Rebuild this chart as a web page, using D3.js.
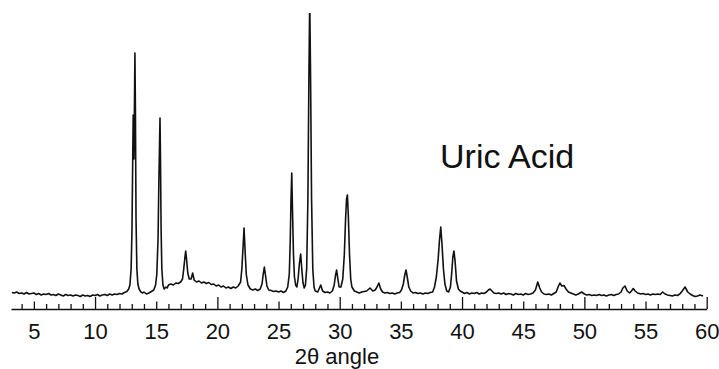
<!DOCTYPE html>
<html>
<head>
<meta charset="UTF-8">
<script src="https://d3js.org/d3.v7.min.js"></script>
<style>
    body { margin: 0; background: #fff; }
    svg { display: block; font-family: "Liberation Sans", Arial, sans-serif; }
</style>
</head>
<body>
<svg id="chart" width="719" height="369"></svg>
<script>
// XRD scan, [2theta, intensity] (intensity in arbitrary counts)
var scan = [
    [3.2,16.5],[3.4,16],[3.6,17],[3.8,15.5],[4.0,16],[4.2,15],[4.4,16.5],[4.6,15],[4.8,15.5],[5.0,16],
    [5.2,14.5],[5.4,15.5],[5.6,14],[5.8,15],[6.0,14.5],[6.2,15.5],[6.4,14],[6.6,14.5],[6.8,13.5],[7.0,15],
    [7.2,14],[7.4,13],[7.6,14.5],[7.8,13.5],[8.0,14],[8.2,13],[8.4,14],[8.6,13.5],[8.8,12.5],[9.0,14],
    [9.2,13],[9.4,13.5],[9.6,12.5],[9.8,14],[10.0,13.5],[10.2,14.5],[10.4,13],[10.6,14],[10.8,14.5],[11.0,13.5],
    [11.2,15],[11.4,14],[11.6,15],[11.8,14.5],[12.0,15.5],[12.2,15],[12.4,16.5],[12.6,17.5],[12.75,20],[12.85,24],
    [12.95,40],[13.02,80],[13.08,150],[13.12,194],[13.18,150],[13.22,200],[13.26,256],[13.30,200],[13.35,90],[13.42,40],
    [13.5,25],[13.6,20],[13.75,17],[13.9,16],[14.0,17],[14.2,15],[14.4,16],[14.6,17.5],[14.8,19],[14.95,24],
    [15.05,35],[15.15,70],[15.22,130],[15.28,170],[15.31,191],[15.35,150],[15.40,80],[15.46,40],[15.55,24],[15.65,20],
    [15.8,22],[15.9,21],[16.0,24],[16.2,25],[16.4,24],[16.6,26],[16.8,25.5],[17.0,27],[17.15,30],[17.25,40],
    [17.35,52],[17.41,58],[17.48,50],[17.58,36],[17.7,30],[17.85,30],[17.98,36],[18.1,29],[18.3,27],[18.5,28],
    [18.7,26],[18.9,27],[19.1,25.5],[19.3,26.5],[19.5,24.5],[19.7,25],[19.9,23],[20.1,24],[20.3,22],[20.5,23],
    [20.7,21],[20.9,22],[21.1,20.5],[21.3,22],[21.5,21],[21.7,23],[21.9,27],[22.0,40],[22.1,62],[22.18,81],
    [22.26,60],[22.36,35],[22.5,24],[22.7,20],[22.9,19],[23.1,20],[23.3,18.5],[23.5,20],[23.65,25],[23.75,35],
    [23.84,42],[23.93,34],[24.05,23],[24.2,19],[24.4,18.5],[24.6,17.5],[24.8,18],[25.0,17],[25.2,18],[25.4,16.5],
    [25.6,18],[25.75,22],[25.88,35],[25.96,70],[26.02,110],[26.08,136],[26.14,100],[26.22,55],[26.3,32],[26.4,24],
    [26.5,22],[26.6,30],[26.7,45],[26.81,55],[26.9,40],[27.0,26],[27.1,21],[27.2,24],[27.3,40],[27.4,110],
    [27.48,230],[27.55,310],[27.62,230],[27.7,110],[27.8,40],[27.9,22],[28.0,18],[28.2,17],[28.45,24],[28.6,18],
    [28.8,16.5],[29.0,17],[29.2,16],[29.4,18],[29.55,24],[29.65,33],[29.75,39],[29.85,30],[29.95,22],[30.1,22],
    [30.25,30],[30.38,55],[30.48,90],[30.56,110],[30.63,114],[30.7,95],[30.8,55],[30.9,30],[31.0,22],[31.2,18],
    [31.4,17],[31.6,16],[31.8,17],[32.0,17.5],[32.2,18],[32.48,21],[32.7,18],[32.9,19],[33.05,22],[33.2,26],
    [33.35,20],[33.5,17],[33.7,16],[33.9,16.5],[34.1,15.5],[34.3,16],[34.5,15],[34.7,16],[34.9,16.5],[35.05,19],
    [35.2,25],[35.32,34],[35.42,39],[35.52,32],[35.65,22],[35.8,18],[36.0,16],[36.2,16.5],[36.4,15.5],[36.6,16],
    [36.8,15],[37.0,16],[37.2,15.5],[37.4,16.5],[37.6,17],[37.75,22],[37.9,32],[38.05,50],[38.15,68],[38.26,82],
    [38.36,65],[38.48,40],[38.6,25],[38.75,18],[38.9,17],[39.05,22],[39.15,35],[39.25,52],[39.34,58],[39.43,48],
    [39.55,28],[39.7,20],[39.85,18],[40.0,17],[40.2,15.5],[40.4,16.5],[40.6,15],[40.8,16],[41.0,15.5],[41.2,16.5],
    [41.4,15],[41.6,16],[41.8,15.5],[42.0,17],[42.15,19],[42.29,20],[42.45,18],[42.6,16],[42.8,15.5],[43.0,16],
    [43.2,15],[43.4,16],[43.6,14.5],[43.8,15.5],[44.0,15],[44.2,14],[44.4,15.5],[44.6,14.5],[44.8,15],[45.0,14],
    [45.2,15.5],[45.4,14.5],[45.6,15],[45.8,16],[46.0,19],[46.19,27],[46.35,21],[46.5,17],[46.7,15],[46.9,14.5],
    [47.1,15],[47.3,14],[47.5,15.5],[47.7,17],[47.85,22],[48.0,26],[48.15,23],[48.33,23.5],[48.5,20],[48.7,17],
    [48.9,16],[49.1,15],[49.3,14],[49.5,15],[49.78,17],[50.0,15],[50.2,14],[50.4,14.5],[50.6,13.5],[50.8,14],
    [51.0,13.5],[51.2,14.5],[51.4,13.5],[51.6,14],[51.8,13],[52.0,14],[52.2,14.5],[52.4,13.5],[52.6,14.5],[52.8,15],
    [53.0,17],[53.15,21],[53.32,23],[53.5,18],[53.7,16],[53.85,18],[54.0,20.5],[54.15,18],[54.35,16],[54.6,15],
    [54.8,15.5],[55.0,14.5],[55.2,15],[55.4,14],[55.6,15],[55.8,14.5],[56.0,15],[56.2,14.5],[56.4,17],[56.6,15],
    [56.8,14],[57.0,13.5],[57.2,13],[57.4,14],[57.6,13.5],[57.8,15],[58.0,18],[58.23,22],[58.45,17],[58.65,15],
    [58.85,13.5],[59.05,12.5],[59.25,13],[59.45,14],[59.7,13]
];

var minorTicks = d3.range(4, 61);          // every degree
var labelTicks = [5, 10, 15, 20, 25, 30, 35, 40, 45, 50, 55, 60];
var xTitle = "2\u03b8 angle";
var sampleName = "Uric Acid";

var svg = d3.select("#chart");

var x = d3.scaleLinear().domain([3.13, 60]).range([11, 706.7]);
var y = d3.scaleLinear().domain([0, 296]).range([309, 13]);

svg.append("rect").attr("width", 719).attr("height", 369).attr("fill", "#fff");

svg.append("clipPath").attr("id", "plotclip")
    .append("rect").attr("x", 0).attr("y", 13).attr("width", 719).attr("height", 296);

var line = d3.line()
    .x(function (d) { return x(d[0]); })
    .y(function (d) { return y(d[1]); });

svg.append("path")
    .datum(scan)
    .attr("clip-path", "url(#plotclip)")
    .attr("fill", "none")
    .attr("stroke", "#111")
    .attr("stroke-width", 1.6)
    .attr("stroke-linejoin", "round")
    .attr("d", line);

// x axis, ticks point up into the plot
var xAxis = d3.axisBottom(x)
    .tickValues(minorTicks)
    .tickSizeInner(-5)
    .tickSizeOuter(0)
    .tickPadding(14)
    .tickFormat(function (d) { return labelTicks.indexOf(d) >= 0 ? d : ""; });

var gx = svg.append("g")
    .attr("transform", "translate(0,309)")
    .call(xAxis);

gx.select(".domain").attr("stroke", "#111").attr("stroke-width", 1.6);
gx.selectAll(".tick line")
    .attr("stroke", "#111")
    .attr("stroke-width", 1.3)
    .attr("y2", function (d) { return d % 10 === 0 ? -12 : (d % 5 === 0 ? -7.5 : -5); });
gx.selectAll(".tick text")
    .attr("fill", "#111")
    .style("font-family", "Liberation Sans, Arial, sans-serif")
    .style("font-size", "22px");

svg.append("text")
    .attr("x", 337)
    .attr("y", 364)
    .attr("text-anchor", "middle")
    .attr("fill", "#111")
    .style("font-size", "22px")
    .text(xTitle);

svg.append("text")
    .attr("x", 440)
    .attr("y", 168)
    .attr("fill", "#111")
    .style("font-size", "34px")
    .text(sampleName);
</script>
</body>
</html>
